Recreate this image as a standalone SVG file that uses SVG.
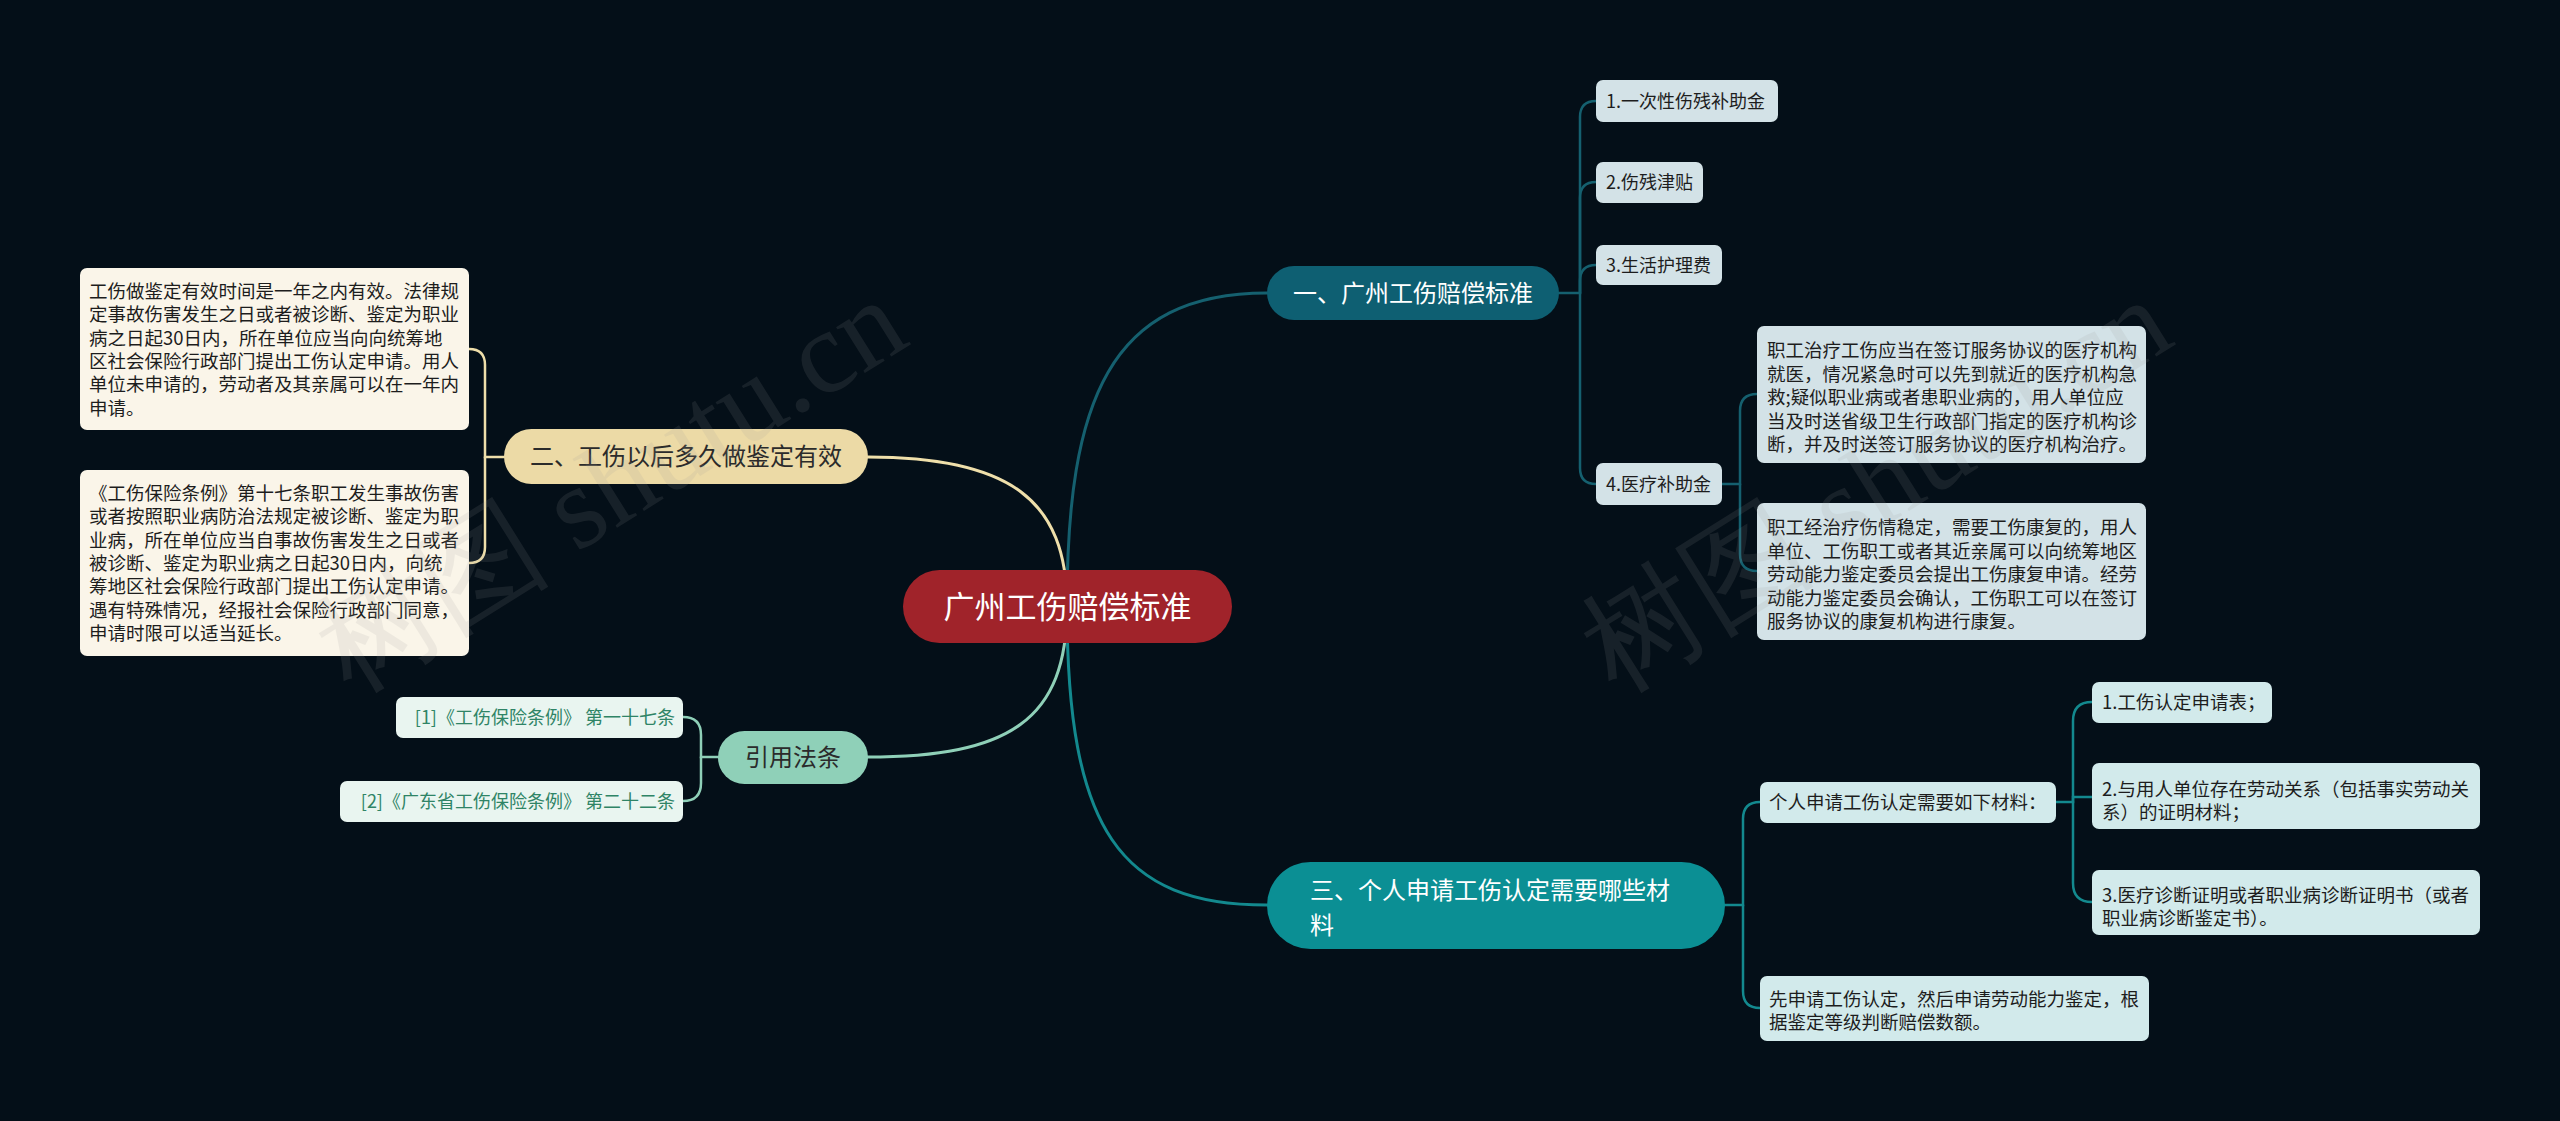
<svg xmlns="http://www.w3.org/2000/svg" width="2560" height="1121" viewBox="0 0 2560 1121">
<style>
text{font-family:"Noto Sans CJK SC","Noto Sans",sans-serif;}
.c0{fill:#ffffff;font-size:31px;text-anchor:middle;}
.m{font-size:24px;}
.mw{fill:#ffffff;}
.md{fill:#2b2b2b;}
.s{font-size:18px;fill:#1d1d1d;}
.p{font-size:18.5px;fill:#1d1d1d;}
.ref{font-size:18px;fill:#2f8466;text-anchor:end;}
.conn path{fill:none;stroke-linecap:round;}
.l1{stroke:#15606f;stroke-width:3;}
.l2{stroke:#efdfaa;stroke-width:3;}
.l3{stroke:#13898e;stroke-width:3;}
.l4{stroke:#8fd0b8;stroke-width:3;}
.b1{fill:#d3e2e7;}
.b2{fill:#faf5e9;}
.b3{fill:#d2eaeb;}
.b4{fill:#e9f5f0;}
.wm{font-family:"Liberation Serif","DejaVu Serif",serif;font-size:118px;fill:#9a9a9a;opacity:0.13;}
</style>
<rect x="0" y="0" width="2560" height="1121" fill="#040f18"/>

<g id="connectors" class="conn">
  <path class="l1" d="M1067 606 C1067 400 1110 293 1267 293"/>
  <path class="l2" d="M1067 606 C1067 500 1010 457 868 457"/>
  <path class="l4" d="M1067 606 C1067 720 1010 757 867 757"/>
  <path class="l3" d="M1067 606 C1067 830 1120 905 1267 905"/>
  <path class="l1" style="stroke-width:2.5" d="M1559 293 H1580 V117 Q1580 101 1596 101"/>
  <path class="l1" style="stroke-width:2.5" d="M1580 293 V198 Q1580 182 1596 182"/>
  <path class="l1" style="stroke-width:2.5" d="M1580 293 V281 Q1580 265 1596 265"/>
  <path class="l1" style="stroke-width:2.5" d="M1580 293 V468 Q1580 484 1596 484"/>
  <path class="l1" style="stroke-width:2.5" d="M1722 484 H1740 V411 Q1740 394 1757 394"/>
  <path class="l1" style="stroke-width:2.5" d="M1740 484 V554 Q1740 571 1757 571"/>
  <path class="l2" style="stroke-width:2.5" d="M504 457 H485 V365 Q485 349 469 349"/>
  <path class="l2" style="stroke-width:2.5" d="M485 457 V547 Q485 563 469 563"/>
  <path class="l3" style="stroke-width:2.5" d="M1725 905 H1743 V819 Q1743 802 1760 802"/>
  <path class="l3" style="stroke-width:2.5" d="M1743 905 V991 Q1743 1008 1760 1008"/>
  <path class="l3" style="stroke-width:2.5" d="M2056 802 H2073 V721 Q2073 702 2092 702"/>
  <path class="l3" style="stroke-width:2.5" d="M2073 802 V797 H2092"/>
  <path class="l3" style="stroke-width:2.5" d="M2073 802 V883 Q2073 902 2092 902"/>
  <path class="l4" style="stroke-width:2.5" d="M718 757 H701 V735 Q701 717 683 717"/>
  <path class="l4" style="stroke-width:2.5" d="M701 757 V783 Q701 801 683 801"/>
</g>

<g id="center">
  <rect x="903" y="570" width="329" height="73" rx="36.5" fill="#a0232a"/>
  <text class="c0" x="1067.5" y="618">广州工伤赔偿标准</text>
</g>

<g id="n1">
  <rect x="1267" y="266" width="292" height="54" rx="27" fill="#0e5f72"/>
  <text class="m mw" x="1413" y="301.5" text-anchor="middle">一、广州工伤赔偿标准</text>
</g>
<g id="n1-1">
  <rect class="b1" x="1596" y="80" width="182" height="42" rx="7"/>
  <text class="s" x="1606" y="107.5">1.一次性伤残补助金</text>
</g>
<g id="n1-2">
  <rect class="b1" x="1596" y="162" width="107" height="41" rx="7"/>
  <text class="s" x="1606" y="189">2.伤残津贴</text>
</g>
<g id="n1-3">
  <rect class="b1" x="1596" y="245" width="126" height="40" rx="7"/>
  <text class="s" x="1606" y="271.5">3.生活护理费</text>
</g>
<g id="n1-4">
  <rect class="b1" x="1596" y="463" width="126" height="42" rx="7"/>
  <text class="s" x="1606" y="490.5">4.医疗补助金</text>
</g>
<g id="n1-4-1">
  <rect class="b1" x="1757" y="326" width="389" height="137" rx="7"/>
  <text class="p" x="1767"><tspan x="1767" y="357">职工治疗工伤应当在签订服务协议的医疗机构</tspan><tspan x="1767" y="380.5">就医，情况紧急时可以先到就近的医疗机构急</tspan><tspan x="1767" y="404">救;疑似职业病或者患职业病的，用人单位应</tspan><tspan x="1767" y="427.5">当及时送省级卫生行政部门指定的医疗机构诊</tspan><tspan x="1767" y="451">断，并及时送签订服务协议的医疗机构治疗。</tspan></text>
</g>
<g id="n1-4-2">
  <rect class="b1" x="1757" y="503" width="389" height="137" rx="7"/>
  <text class="p" x="1767"><tspan x="1767" y="534">职工经治疗伤情稳定，需要工伤康复的，用人</tspan><tspan x="1767" y="557.5">单位、工伤职工或者其近亲属可以向统筹地区</tspan><tspan x="1767" y="581">劳动能力鉴定委员会提出工伤康复申请。经劳</tspan><tspan x="1767" y="604.5">动能力鉴定委员会确认，工伤职工可以在签订</tspan><tspan x="1767" y="628">服务协议的康复机构进行康复。</tspan></text>
</g>

<g id="n2">
  <rect x="504" y="429" width="364" height="55" rx="27.5" fill="#ecdaa6"/>
  <text class="m md" x="686" y="465" text-anchor="middle">二、工伤以后多久做鉴定有效</text>
</g>
<g id="n2-1">
  <rect class="b2" x="80" y="268" width="389" height="162" rx="7"/>
  <text class="p" x="89"><tspan x="89" y="298">工伤做鉴定有效时间是一年之内有效。法律规</tspan><tspan x="89" y="321.3">定事故伤害发生之日或者被诊断、鉴定为职业</tspan><tspan x="89" y="344.6">病之日起30日内，所在单位应当向向统筹地</tspan><tspan x="89" y="368">区社会保险行政部门提出工伤认定申请。用人</tspan><tspan x="89" y="391.3">单位未申请的，劳动者及其亲属可以在一年内</tspan><tspan x="89" y="414.6">申请。</tspan></text>
</g>
<g id="n2-2">
  <rect class="b2" x="80" y="470" width="389" height="186" rx="7"/>
  <text class="p" x="89"><tspan x="89" y="500">《工伤保险条例》第十七条职工发生事故伤害</tspan><tspan x="89" y="523.3">或者按照职业病防治法规定被诊断、鉴定为职</tspan><tspan x="89" y="546.6">业病，所在单位应当自事故伤害发生之日或者</tspan><tspan x="89" y="570">被诊断、鉴定为职业病之日起30日内，向统</tspan><tspan x="89" y="593.3">筹地区社会保险行政部门提出工伤认定申请。</tspan><tspan x="89" y="616.6">遇有特殊情况，经报社会保险行政部门同意，</tspan><tspan x="89" y="640">申请时限可以适当延长。</tspan></text>
</g>

<g id="n3">
  <rect x="1267" y="862" width="458" height="87" rx="43.5" fill="#0b8f94"/>
  <text class="m mw" x="1310"><tspan x="1310" y="899">三、个人申请工伤认定需要哪些材</tspan><tspan x="1310" y="934">料</tspan></text>
</g>
<g id="n3-1">
  <rect class="b3" x="1760" y="782" width="296" height="41" rx="7"/>
  <text class="p" x="1769" y="809">个人申请工伤认定需要如下材料：</text>
</g>
<g id="n3-1-1">
  <rect class="b3" x="2092" y="682" width="180" height="41" rx="7"/>
  <text class="p" x="2102" y="709">1.工伤认定申请表；</text>
</g>
<g id="n3-1-2">
  <rect class="b3" x="2092" y="763" width="388" height="66" rx="7"/>
  <text class="p" x="2102"><tspan x="2102" y="796">2.与用人单位存在劳动关系（包括事实劳动关</tspan><tspan x="2102" y="819">系）的证明材料；</tspan></text>
</g>
<g id="n3-1-3">
  <rect class="b3" x="2092" y="870" width="388" height="65" rx="7"/>
  <text class="p" x="2102"><tspan x="2102" y="902">3.医疗诊断证明或者职业病诊断证明书（或者</tspan><tspan x="2102" y="925">职业病诊断鉴定书）。</tspan></text>
</g>
<g id="n3-2">
  <rect class="b3" x="1760" y="976" width="389" height="65" rx="7"/>
  <text class="p" x="1769"><tspan x="1769" y="1006">先申请工伤认定，然后申请劳动能力鉴定，根</tspan><tspan x="1769" y="1029">据鉴定等级判断赔偿数额。</tspan></text>
</g>

<g id="n4">
  <rect x="718" y="731" width="150" height="53" rx="26.5" fill="#8fd0b8"/>
  <text class="m md" x="793" y="766" text-anchor="middle">引用法条</text>
</g>
<g id="n4-1">
  <rect class="b4" x="396" y="697" width="287" height="41" rx="7"/>
  <text class="ref" x="675" y="724">[1]《工伤保险条例》 第一十七条</text>
</g>
<g id="n4-2">
  <rect class="b4" x="340" y="781" width="343" height="41" rx="7"/>
  <text class="ref" x="675" y="808">[2]《广东省工伤保险条例》 第二十二条</text>
</g>

<g id="watermark">
  <text class="wm" transform="translate(351 694) rotate(-32)">树图 shutu.cn</text>
  <text class="wm" transform="translate(1616 694) rotate(-32)">树图 shutu.cn</text>
</g>
</svg>
